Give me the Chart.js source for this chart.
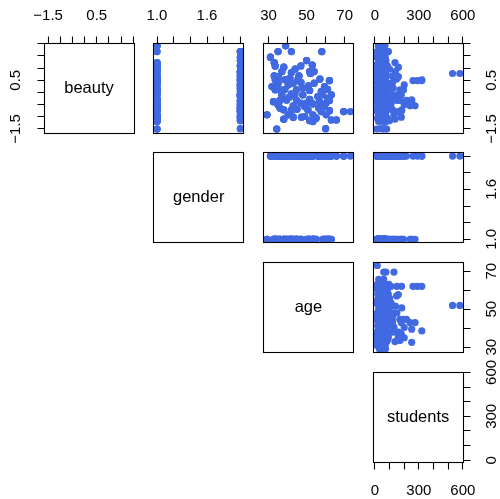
<!DOCTYPE html>
<html>
<head>
<meta charset="utf-8">
<script src="https://cdn.jsdelivr.net/npm/chart.js@4"></script>
<style>
html, body { margin: 0; padding: 0; background: #fff; }
#wrap { position: relative; width: 500px; height: 499px; }
#wrap canvas { position: absolute; left: 0; top: 0; }
</style>
</head>
<body>
<div id="wrap"></div>
<script>
// one entry per instructor
var profBeauty = [1.92, 1.68, 1.68, 1.68, 1.45, 1.23, 1.09, 1.04, 1.31, 1.13,
    1.09, 0.96, 0.86, 0.82, 0.86, 0.68, 0.68, 0.78, 0.52, 0.55,
    0.49, 0.38, 0.38, 0.41, 0.27, 0.11, 0.13, 0.11, 0.08, 0.04,
    0.13, -0.10, -0.06, -0.10, -0.10, -0.10, -0.38, -0.31, -0.33, -0.28,
    -0.38, -0.33, -0.51, -0.55, -0.58, -0.58, -0.72, -0.69, -0.72, -0.65,
    -0.75, -0.92, -0.79, -0.79, -0.92, -1.02, -1.06, -0.92, -1.10, -1.16,
    -1.13, -1.51, -1.49, -1.20, 0.65, 0.59, 0.18, 0.38, -0.19, -0.44,
    -0.47, -0.33, 0.24, -1.02, -1.13, 0.24, 0.11, 0.31, 0.55, -0.10,
    -0.44, -0.17, -0.44, -0.79, -0.92, -0.99, -0.72, -0.65, 0.52, 0.86,
    -0.24];
var profAge = [39, 35, 42, 58, 31, 33, 33.5, 38, 50, 53,
    47, 44, 37, 42, 54, 33, 46, 52, 38.6, 57,
    62, 35, 43, 47, 51, 33.5, 38.6, 44.7, 51.6, 57.7,
    61, 37, 42, 48, 58.5, 63, 32.6, 39.5, 44.7, 51.6,
    56.8, 62, 35, 43, 49, 59.4, 38, 45, 50.7, 56.4,
    62, 29.2, 69.5, 73, 40.4, 47.3, 55, 60.3, 38, 51.6,
    63, 34.3, 60, 53.3, 35.2, 41.2, 48, 54, 41, 47,
    53.3, 36, 59.4, 43, 65.7, 31.8, 36.1, 40.4, 45.5, 43.8,
    49.9, 55.9, 60.3, 57.7, 53.3, 49, 42.1, 36.1, 33.5, 51.6,
    61.1];
var profGender = [1, 2, 1, 2, 2, 1, 2, 1, 2, 1,
    2, 1, 2, 1, 1, 1, 2, 2, 2, 2,
    2, 1, 2, 1, 2, 1, 2, 1, 1, 2,
    1, 2, 1, 2, 1, 2, 1, 1, 2, 1,
    2, 1, 2, 1, 2, 1, 2, 1, 1, 2,
    1, 1, 2, 2, 1, 2, 1, 2, 1, 2,
    1, 1, 2, 1, 2, 1, 2, 1, 2, 1,
    2, 1, 1, 2, 2, 2, 1, 2, 1, 2,
    1, 2, 1, 2, 1, 2, 1, 2, 1, 2,
    1];
// class sizes of each instructor's courses
var profStudents = [[23, 45, 68], [15, 91, 60], [30, 55], [20, 91, 52], [12, 40, 70], [25, 137, 58], [35, 60, 85], [18, 160, 48], [28, 50, 75], [10, 65, 40],
    [40, 72], [22, 58, 100], [15, 48, 66], [33, 70], [26, 62], [12, 55, 80], [38, 62, 120], [45, 530, 580], [20, 52, 320], [30, 148, 70],
    [25, 260, 290, 320], [18, 60, 85], [42, 66], [15, 68, 120], [35, 55, 100], [20, 171, 64], [45, 78], [12, 195, 56], [30, 58, 75], [22, 60],
    [50, 15, 70], [28, 66, 180], [40, 62], [20, 110, 150], [35, 75], [16, 60, 95], [25, 251, 64], [30, 251, 70], [12, 170, 215], [45, 65, 100],
    [25, 66], [38, 110, 150], [20, 55, 200], [30, 240, 274], [48, 70], [22, 62, 85], [35, 68, 120], [15, 58], [28, 183, 66], [40, 75],
    [20, 182, 60], [30, 55, 72], [60, 75, 130], [16], [45, 25, 130], [30, 62], [18, 60, 85], [40, 70], [22, 137, 60], [35, 70, 100],
    [28, 64], [12, 80, 55], [38, 66], [25, 55, 78], [30, 70, 160], [48, 20, 66], [15, 125, 60], [36, 72], [22, 62, 90], [40, 64],
    [28, 70, 110], [18, 50, 75], [32, 60], [44, 68, 180], [26, 60], [30, 62], [24, 70, 85], [40, 58, 200], [18, 66], [35, 72, 120],
    [28, 60], [45, 68, 100], [20, 74], [32, 56, 160], [26, 64], [38, 70], [22, 58, 120], [30, 66, 90], [16, 72], [42, 60, 140],
    [25, 68]];

var varNames = ['beauty', 'gender', 'age', 'students'];
var varMin = [-1.67, 0.96, 27.3, -12.5];
var varMax = [2.035, 2.04, 74.6, 602];
var tickVals = [[-1.5, -1, -0.5, 0, 0.5, 1, 1.5, 2], [1, 1.2, 1.4, 1.6, 1.8, 2], [30, 40, 50, 60, 70], [0, 100, 200, 300, 400, 500, 600]];
var labelVals = [[-1.5, 0.5], [1, 1.6], [30, 50, 70], [0, 300, 600]];
var labelText = [['\u22121.5', '0.5'], ['1.0', '1.6'], ['30', '50', '70'], ['0', '300', '600']];

// flatten to one row per course: beauty, gender, age, students
var cols = [[], [], [], []];
profStudents.forEach(function (list, i) {
    list.forEach(function (s) {
        cols[0].push(profBeauty[i]);
        cols[1].push(profGender[i]);
        cols[2].push(profAge[i]);
        cols[3].push(s);
    });
});

var panels = [
    {r: 0, c: 0, sides: ['top', 'left']},
    {r: 0, c: 1, sides: ['top']},
    {r: 0, c: 2, sides: ['top']},
    {r: 0, c: 3, sides: ['top', 'right']},
    {r: 1, c: 1, sides: []},
    {r: 1, c: 2, sides: []},
    {r: 1, c: 3, sides: ['right']},
    {r: 2, c: 2, sides: []},
    {r: 2, c: 3, sides: ['right']},
    {r: 3, c: 3, sides: ['right', 'bottom']}
];

var W = 500, H = 499;
var size = 90, step = 109.7, left0 = 44, top0 = 43;
var font = '"Liberation Sans", Arial, sans-serif';

function snap(v) { return Math.round(v - 0.5) + 0.5; }

var panelPlugin = {
    id: 'panel',
    afterDraw: function (chart) {
        var p = chart.options.plugins.panel;
        var ctx = chart.ctx, a = chart.chartArea;
        ctx.save();
        ctx.strokeStyle = '#000';
        ctx.lineWidth = 1.1;
        var l = snap(a.left), t = snap(a.top), r = snap(a.right), b = snap(a.bottom);
        ctx.strokeRect(l, t, r - l, b - t);
        if (p.r === p.c) {
            ctx.fillStyle = '#000';
            ctx.font = '16.5px ' + font;
            ctx.textAlign = 'center';
            ctx.textBaseline = 'middle';
            ctx.fillText(varNames[p.r], (a.left + a.right) / 2, (a.top + a.bottom) / 2);
        }
        ctx.font = '15px ' + font;
        ctx.fillStyle = '#000';
        ctx.textAlign = 'center';
        ctx.textBaseline = 'middle';
        p.sides.forEach(function (side) {
            var horiz = side === 'top' || side === 'bottom';
            var v = horiz ? p.c : p.r;
            var sc = horiz ? chart.scales.x : chart.scales.y;
            var edge = side === 'top' ? t : side === 'bottom' ? b : side === 'left' ? l : r;
            var dir = (side === 'top' || side === 'left') ? -1 : 1;
            ctx.beginPath();
            tickVals[v].forEach(function (tv) {
                var q = snap(sc.getPixelForValue(tv));
                if (horiz) { ctx.moveTo(q, edge); ctx.lineTo(q, edge + dir * 7); }
                else { ctx.moveTo(edge, q); ctx.lineTo(edge + dir * 7, q); }
            });
            ctx.stroke();
            labelVals[v].forEach(function (tv, k) {
                var q = sc.getPixelForValue(tv);
                if (horiz) {
                    ctx.fillText(labelText[v][k], q, edge + dir * 28);
                } else {
                    ctx.save();
                    ctx.translate(edge + dir * 28.5, q);
                    ctx.rotate(-Math.PI / 2);
                    ctx.fillText(labelText[v][k], 0, 0);
                    ctx.restore();
                }
            });
        });
        ctx.restore();
    }
};

var wrap = document.getElementById('wrap');
panels.forEach(function (p) {
    var cv = document.createElement('canvas');
    cv.width = W; cv.height = H;
    cv.style.width = W + 'px'; cv.style.height = H + 'px';
    wrap.appendChild(cv);
    var x0 = left0 + p.c * step, y0 = top0 + p.r * step;
    var pts = [];
    if (p.r !== p.c) {
        for (var k = 0; k < cols[0].length; k++) {
            pts.push({x: cols[p.c][k], y: cols[p.r][k]});
        }
    }
    new Chart(cv.getContext('2d'), {
        type: 'scatter',
        data: {
            datasets: [{
                data: pts,
                backgroundColor: '#4169E1',
                borderWidth: 0,
                pointRadius: 3.6
            }]
        },
        options: {
            responsive: false,
            animation: false,
            layout: {padding: {left: x0, top: y0, right: W - x0 - size, bottom: H - y0 - size}},
            scales: {
                x: {type: 'linear', min: varMin[p.c], max: varMax[p.c], display: false},
                y: {type: 'linear', min: varMin[p.r], max: varMax[p.r], display: false}
            },
            plugins: {legend: {display: false}, tooltip: {enabled: false}, panel: p}
        },
        plugins: [panelPlugin]
    });
});
</script>
</body>
</html>
